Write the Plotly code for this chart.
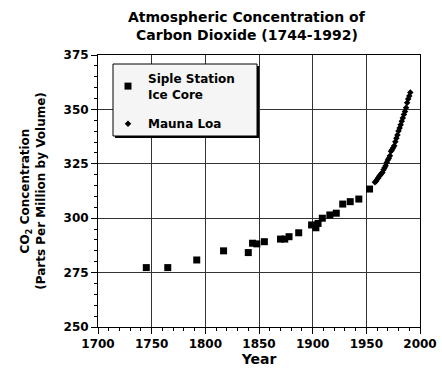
import plotly.graph_objects as go

# Siple Station ice core
siple_years = [1745, 1765, 1792, 1817, 1840, 1844, 1848, 1855, 1870, 1874, 1878, 1887,
               1899, 1903, 1905, 1909, 1916, 1922, 1928, 1935, 1943, 1953]
siple_ppm = [277.3, 277.3, 280.8, 285.0, 284.2, 288.5, 288.2, 289.2, 290.4, 290.4, 291.5, 293.3,
             296.9, 295.6, 297.6, 300.0, 301.5, 302.3, 306.5, 307.6, 308.8, 313.4]

# Mauna Loa
mauna_years = list(range(1958, 1992))
mauna_ppm = [316.5, 317.0, 317.8, 318.5, 319.3, 319.9, 320.5, 321.0, 322.3, 323.2,
             324.1, 325.6, 326.8, 327.5, 328.7, 330.8, 331.4, 332.4, 333.3, 335.1,
             336.7, 338.2, 340.1, 341.5, 342.9, 344.5, 346.1, 347.6, 349.0, 350.8,
             353.1, 354.8, 356.2, 357.8]

x_ticks = [1700, 1750, 1800, 1850, 1900, 1950, 2000]
y_ticks = [250, 275, 300, 325, 350, 375]

title_lines = ["Atmospheric Concentration of", "Carbon Dioxide (1744-1992)"]

FONT = "DejaVu Sans"

fig = go.Figure()
fig.add_trace(go.Scatter(
    x=siple_years, y=siple_ppm, mode="markers", name="Siple Station<br>Ice Core",
    legendgroup="a",
    marker=dict(symbol="square", size=7, color="black"),
))
fig.add_trace(go.Scatter(
    x=mauna_years, y=mauna_ppm, mode="markers", name="Mauna Loa",
    legendgroup="b",
    marker=dict(symbol="diamond", size=5, color="black"),
))

W, H = 442, 374
L, R, T, B = 98, 22, 55, 47
pw, ph = W - L - R, H - T - B

def px2paper(x, y):
    return (x - L) / pw, 1 - (y - T) / ph

# legend box with shadow
bx0, by0, bx1, by1 = 113, 64, 257, 136
sx0, sy0 = px2paper(bx0 + 2, by0 + 2)
sx1, sy1 = px2paper(bx1 + 2, by1 + 2)
x0, y0 = px2paper(bx0, by0)
x1, y1 = px2paper(bx1, by1)
fig.add_shape(type="rect", xref="paper", yref="paper", x0=sx0, y0=sy1, x1=sx1, y1=sy0,
              fillcolor="black", line=dict(width=0), layer="above")
fig.add_shape(type="rect", xref="paper", yref="paper", x0=x0, y0=y1, x1=x1, y1=y0,
              fillcolor="#f5f5f5", line=dict(color="black", width=1), layer="above")

# title as annotations
for i, line in enumerate(title_lines):
    tx, ty = px2paper(247, 17 + 18 * i)
    fig.add_annotation(text=line, xref="paper", yref="paper", x=tx, y=ty,
                       xanchor="center", yanchor="middle", showarrow=False,
                       font=dict(family=FONT, size=14, color="black", weight="bold"))

lx, ly = px2paper(108, 64)

axis_common = dict(
    showline=True, linecolor="black", linewidth=1, mirror=True,
    showgrid=True, gridcolor="#333333", gridwidth=1,
    ticks="outside", tickcolor="black", ticklen=6, tickwidth=1,
    zeroline=False, automargin=False, tickmode="linear",
    tickfont=dict(family=FONT, size=12, color="black", weight="bold"),
)

fig.update_layout(
    width=W, height=H,
    margin=dict(l=L, r=R, t=T, b=B, autoexpand=False),
    paper_bgcolor="white", plot_bgcolor="white",
    xaxis=dict(
        range=[x_ticks[0], x_ticks[-1]], tick0=x_ticks[0], dtick=x_ticks[1] - x_ticks[0],
        minor=dict(dtick=10, ticks="outside", ticklen=3, tickcolor="black"),
        title=dict(text="Year", standoff=0,
                   font=dict(family=FONT, size=14, color="black", weight="bold")),
        **axis_common,
    ),
    yaxis=dict(
        range=[y_ticks[0], y_ticks[-1]], tick0=y_ticks[0], dtick=y_ticks[1] - y_ticks[0],
        minor=dict(dtick=5, ticks="outside", ticklen=3, tickcolor="black"),
        title=dict(text="CO<sub>2</sub> Concentration<br>(Parts Per Million by Volume)", standoff=15,
                   font=dict(family=FONT, size=12, color="black", weight="bold")),
        **axis_common,
    ),
    showlegend=True,
    legend=dict(
        x=lx, y=ly, xanchor="left", yanchor="top",
        bgcolor="rgba(0,0,0,0)", borderwidth=0,
        font=dict(family=FONT, size=12, color="black", weight="bold"),
        itemwidth=30, traceorder="grouped", tracegroupgap=11,
    ),
)

fig.write_html("out.html", config={"displayModeBar": False},
               post_script="document.body.style.margin='0px';")
